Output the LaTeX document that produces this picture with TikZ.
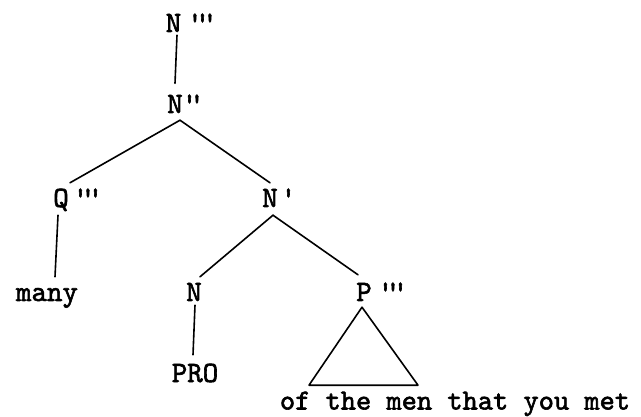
\documentclass[tikz,border=0pt]{standalone}
\usepackage{fontspec}
\newfontfamily\tw{lmmono10-regular.otf}[FakeBold=2]
\newcommand\tk{\textquotesingle}
\begin{document}
\begin{tikzpicture}[x=1pt,y=-1pt,
  lbl/.style={font=\fontsize{29.5}{31}\selectfont\tw, inner sep=0pt, anchor=base, text height=17.5pt, text depth=0pt},
  edge/.style={line width=1.6pt, line cap=round}]
\useasboundingbox (0,0) rectangle (641,417);
% labels
\node[lbl] (n3) at (173.5,32) {N\rlap{\kern6pt\tk\kern-8pt\tk\kern-8pt\tk}};
\node[lbl] (n2) at (175,113) {N\rlap{\kern-1pt\tk\kern-8pt\tk}};
\node[lbl] (q3) at (61,207) {Q\rlap{\kern4pt\tk\kern-8pt\tk\kern-8pt\tk}};
\node[lbl] (n1) at (270,207) {N\rlap{\kern3pt\tk}};
\node[lbl] (many) at (47,301) {many};
\node[lbl] (nn) at (194,301) {N};
\node[lbl] (p3) at (364,301) {P\rlap{\kern6pt\tk\kern-8pt\tk\kern-8pt\tk}};
\node[lbl] (pro) at (195,382) {PRO};
\node[lbl, font=\fontsize{29}{31}\selectfont\tw] (ph) at (455,409.5) {of the men that you met};
% connectors
\draw[edge] ([shift={(3.5,3)}]n3.south) -- ([shift={(0,-12)}]n2.north);
\draw[edge] ([shift={(9,-6.5)}]q3.north) -- ([shift={(5,7)}]n2.south) -- ([shift={(0,-6.5)}]n1.north);
\draw[edge] ([shift={(-3,8)}]q3.south) -- ([shift={(8,-6.5)}]many.north);
\draw[edge] ([shift={(6,-6.5)}]nn.north) -- ([shift={(3,8)}]n1.south) -- ([shift={(-6,-8.5)}]p3.north);
\draw[edge] ([shift={(1,4)}]nn.south) -- ([shift={(-2,-9.5)}]pro.north);
% triangle
\draw[edge, line join=round] ([shift={(-2,6)}]p3.south) -- ([shift={(-55,84)}]p3.south) -- ([shift={(54,84)}]p3.south) -- cycle;
\end{tikzpicture}
\end{document}
